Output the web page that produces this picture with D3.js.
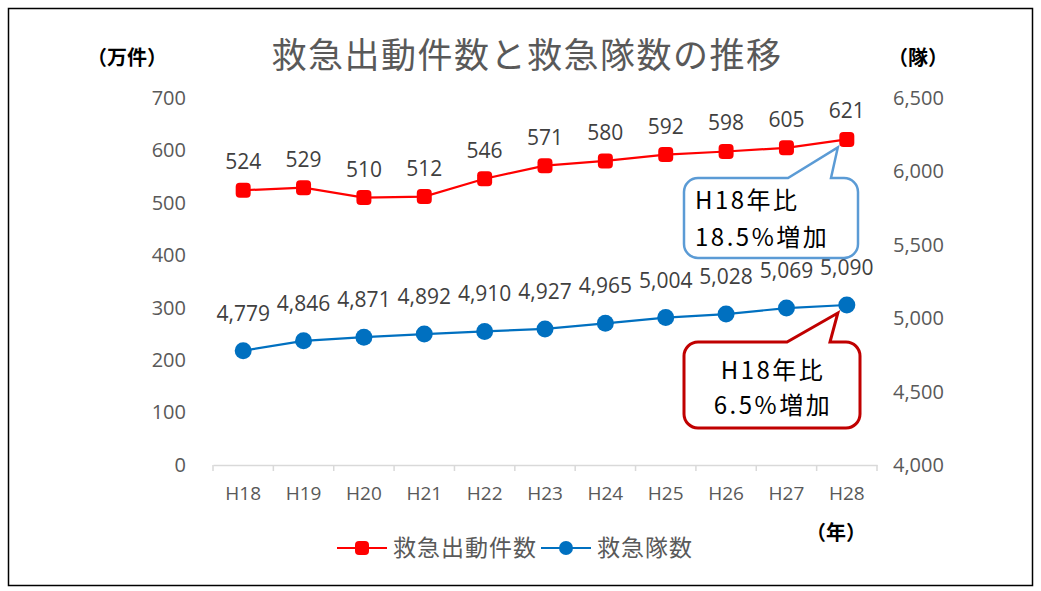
<!DOCTYPE html>
<html lang="ja">
<head>
<meta charset="UTF-8">
<title>救急出動件数と救急隊数の推移</title>
<script src="https://d3js.org/d3.v7.min.js"></script>
<style>
  body { margin: 0; background: #fff; }
  svg text { font-family: "Noto Sans CJK JP", "Noto Sans", sans-serif; }
</style>
</head>
<body>
<script>
const years = ["H18", "H19", "H20", "H21", "H22", "H23", "H24", "H25", "H26", "H27", "H28"];
const dispatches = [524, 529, 510, 512, 546, 571, 580, 592, 598, 605, 621];   // 万件
const teams = [4779, 4846, 4871, 4892, 4910, 4927, 4965, 5004, 5028, 5069, 5090]; // 隊
const leftTicks = [0, 100, 200, 300, 400, 500, 600, 700];
const rightTicks = [4000, 4500, 5000, 5500, 6000, 6500];

const w = 1041, h = 591;
const plotLeft = 213, plotRight = 877, plotTop = 98, plotBottom = 465;
const numFont = "'Open Sans', sans-serif";

const svg = d3.select("body").append("svg")
  .attr("width", w).attr("height", h);

// frame
svg.append("rect")
  .attr("x", 8.5).attr("y", 8.5).attr("width", 1024).attr("height", 577)
  .attr("fill", "#fff").attr("stroke", "#000").attr("stroke-width", 1.5);

const x = d3.scaleBand().domain(years).range([plotLeft, plotRight]);
const yL = d3.scaleLinear().domain([0, 700]).range([plotBottom, plotTop]);
const yR = d3.scaleLinear().domain([4000, 6500]).range([plotBottom, plotTop]);

// title
svg.append("text").attr("x", 527).attr("y", 68)
  .attr("text-anchor", "middle").attr("font-size", 35).attr("letter-spacing", 1.5)
  .attr("fill", "#595959").text("救急出動件数と救急隊数の推移");

// unit labels
const unitFont = 20;
svg.append("text").attr("x", 127).attr("y", 65).attr("text-anchor", "middle")
  .attr("font-size", unitFont).attr("font-weight", "bold").attr("fill", "#000").text("（万件）");
svg.append("text").attr("x", 918).attr("y", 65).attr("text-anchor", "middle")
  .attr("font-size", unitFont).attr("font-weight", "bold").attr("fill", "#000").text("（隊）");
svg.append("text").attr("x", 836).attr("y", 540).attr("text-anchor", "middle")
  .attr("font-size", unitFont).attr("font-weight", "bold").attr("fill", "#000").text("（年）");

// x axis
const xAxis = svg.append("g").attr("transform", `translate(0,${plotBottom})`)
  .call(d3.axisBottom(x).tickSize(0).tickPadding(22));
xAxis.select(".domain").attr("stroke", "#d9d9d9").attr("stroke-width", 1.5);
xAxis.selectAll("text").attr("font-size", 19).attr("fill", "#595959")
  .style("font-family", numFont);
// category boundary ticks
const bounds = years.map(d => x(d)).concat([x(years[years.length - 1]) + x.bandwidth()]);
xAxis.selectAll(".bound").data(bounds).enter().append("line")
  .attr("x1", d => d).attr("x2", d => d).attr("y1", 0).attr("y2", 6)
  .attr("stroke", "#d9d9d9").attr("stroke-width", 1.5);

// left axis
const yAxisL = svg.append("g").attr("transform", `translate(${plotLeft},0)`)
  .call(d3.axisLeft(yL).tickValues(leftTicks).tickSize(0).tickPadding(27));
yAxisL.select(".domain").remove();
yAxisL.selectAll("text").attr("font-size", 20).attr("fill", "#595959")
  .style("font-family", numFont);

// right axis
const yAxisR = svg.append("g").attr("transform", `translate(${plotRight},0)`)
  .call(d3.axisRight(yR).tickValues(rightTicks).tickSize(0).tickPadding(16)
    .tickFormat(d3.format(",")));
yAxisR.select(".domain").remove();
yAxisR.selectAll("text").attr("font-size", 20).attr("fill", "#595959")
  .style("font-family", numFont);

const cx = d => x(d) + x.bandwidth() / 2;

// red series
const redLine = d3.line().x((d, i) => cx(years[i])).y(d => yL(d));
svg.append("path").datum(dispatches).attr("d", redLine)
  .attr("fill", "none").attr("stroke", "#ff0000").attr("stroke-width", 2.2);
svg.selectAll(".rm").data(dispatches).enter().append("rect")
  .attr("x", (d, i) => cx(years[i]) - 7.5).attr("y", d => yL(d) - 7.5)
  .attr("width", 15).attr("height", 15).attr("rx", 4)
  .attr("fill", "#ff0000");
svg.selectAll(".rl").data(dispatches).enter().append("text")
  .attr("x", (d, i) => cx(years[i])).attr("y", d => yL(d) - 21)
  .attr("text-anchor", "middle").attr("font-size", 21).attr("fill", "#404040")
  .style("font-family", numFont).text(d => d);

// blue series
const blueLine = d3.line().x((d, i) => cx(years[i])).y(d => yR(d));
svg.append("path").datum(teams).attr("d", blueLine)
  .attr("fill", "none").attr("stroke", "#0070c0").attr("stroke-width", 2.2);
svg.selectAll(".bm").data(teams).enter().append("circle")
  .attr("cx", (d, i) => cx(years[i])).attr("cy", d => yR(d)).attr("r", 8.5)
  .attr("fill", "#0070c0");
svg.selectAll(".bl").data(teams).enter().append("text")
  .attr("x", (d, i) => cx(years[i])).attr("y", d => yR(d) - 30)
  .attr("text-anchor", "middle").attr("font-size", 21).attr("fill", "#404040")
  .style("font-family", numFont).text(d => d3.format(",")(d));

// callouts
function callout(x0, y0, x1, y1, r, b1, b2, tx, ty) {
  return `M${x0 + r},${y0} L${b1},${y0} L${tx},${ty} L${b2},${y0} L${x1 - r},${y0}` +
    ` A${r},${r} 0 0 1 ${x1},${y0 + r} L${x1},${y1 - r}` +
    ` A${r},${r} 0 0 1 ${x1 - r},${y1} L${x0 + r},${y1}` +
    ` A${r},${r} 0 0 1 ${x0},${y1 - r} L${x0},${y0 + r}` +
    ` A${r},${r} 0 0 1 ${x0 + r},${y0} Z`;
}
const last = years.length - 1;
svg.append("path")
  .attr("d", callout(684, 178, 858, 258, 14, 788, 831, cx(years[last]) - 9, yL(dispatches[last]) + 8))
  .attr("fill", "#fff").attr("stroke", "#5b9bd5").attr("stroke-width", 2.5);
svg.append("text").attr("x", 695).attr("y", 209).attr("font-size", 24).attr("letter-spacing", 2.5)
  .attr("fill", "#000").text("H18年比");
svg.append("text").attr("x", 695).attr("y", 246).attr("font-size", 24).attr("letter-spacing", 2.5)
  .attr("fill", "#000").text("18.5%増加");

svg.append("path")
  .attr("d", callout(684, 342, 860, 428, 14, 787, 830, cx(years[last]) - 9, yR(teams[last]) + 8))
  .attr("fill", "#fff").attr("stroke", "#c00000").attr("stroke-width", 3);
svg.append("text").attr("x", 773).attr("y", 379).attr("text-anchor", "middle").attr("font-size", 24)
  .attr("letter-spacing", 2.5).attr("fill", "#000").text("H18年比");
svg.append("text").attr("x", 773).attr("y", 414).attr("text-anchor", "middle").attr("font-size", 24)
  .attr("letter-spacing", 2.5).attr("fill", "#000").text("6.5%増加");

// legend
const legend = [
  { name: "救急出動件数", color: "#ff0000", shape: "square", x: 337 },
  { name: "救急隊数", color: "#0070c0", shape: "circle", x: 541 }
];
const lg = svg.selectAll(".lg").data(legend).enter().append("g")
  .attr("transform", d => `translate(${d.x},548)`);
lg.append("line").attr("x1", 0).attr("x2", 50).attr("stroke", d => d.color).attr("stroke-width", 2.2);
lg.filter(d => d.shape === "square").append("rect")
  .attr("x", 18).attr("y", -7).attr("width", 14).attr("height", 14).attr("rx", 4)
  .attr("fill", d => d.color);
lg.filter(d => d.shape === "circle").append("circle")
  .attr("cx", 25).attr("r", 7).attr("fill", d => d.color);
lg.append("text").attr("x", 56).attr("y", 8).attr("font-size", 23).attr("letter-spacing", 1)
  .attr("fill", "#595959").text(d => d.name);
</script>
</body>
</html>
